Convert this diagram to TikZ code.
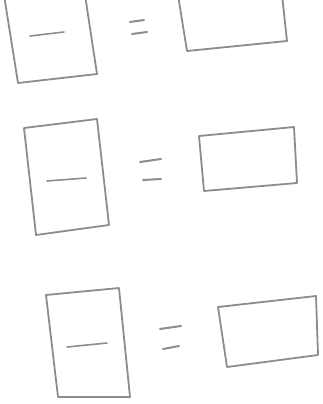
\documentclass[tikz,border=0pt]{standalone}
\usepackage{tikz}
\tikzset{
  ceruza/.style={draw={rgb,255:red,140;green,140;blue,140},line width=1.8pt,line cap=round,line join=round},
  lap/.style={ceruza},
  tort/.style={ceruza,line width=1.6pt},
  egyenlo/.style={ceruza,line width=2pt},
}

\begin{document}
\begin{tikzpicture}[x=1pt,y=-1pt]
  \useasboundingbox (0,0) rectangle (322,404);
  \clip (0,0) rectangle (322,404);
  % first row (top cut off)
  \draw[lap] (4,-5) -- (18,83) -- (97,74) -- (85,-5);
  \draw[tort] (30,36) -- (64,32);
  \draw[egyenlo] (130,22) -- (144,20) (132,34) -- (147,32);
  \draw[lap] (178,-5) -- (187,51) -- (287,41) -- (282,-5);
  % second row
  \draw[lap] (24,128) -- (97,119) -- (109,225) -- (36,235) -- cycle;
  \draw[tort] (47,181) -- (86,178);
  \draw[egyenlo] (140,162) -- (161,159) (143,180) -- (161,179);
  \draw[lap] (199,136) -- (294,127) -- (297,183) -- (204,191) -- cycle;
  % third row
  \draw[lap] (46,295) -- (119,288) -- (130,397) -- (58,397) -- cycle;
  \draw[tort] (67,347) -- (107,343);
  \draw[egyenlo] (160,329) -- (181,326) (163,349) -- (179,346);
  \draw[lap] (218,307) -- (316,296) -- (318,355) -- (227,367) -- cycle;
\end{tikzpicture}
\end{document}
